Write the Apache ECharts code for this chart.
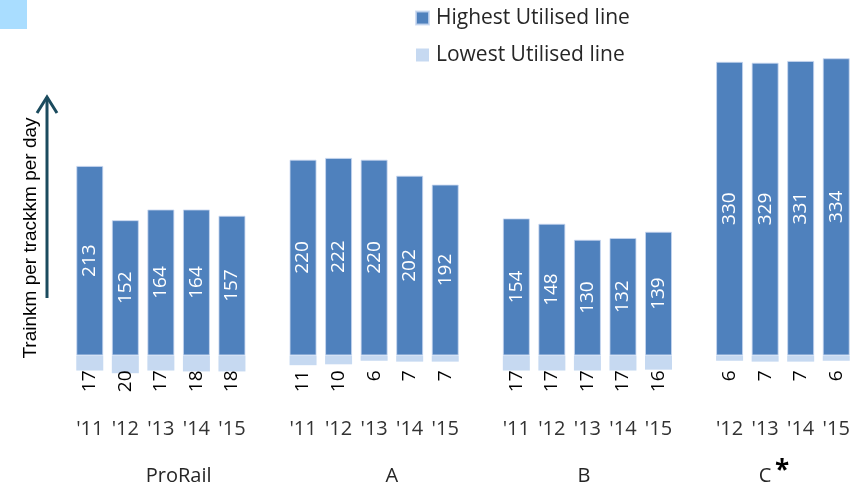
<!DOCTYPE html>
<html>
<head>
<meta charset="utf-8">
<script src="https://cdn.jsdelivr.net/npm/echarts@6/dist/echarts.min.js"></script>
<style>
html,body{margin:0;padding:0;background:#fff;}
#chart{width:864px;height:487px;}
</style>
</head>
<body>
<div id="chart"></div>
<script>
// ---- data ----
const groups = ['ProRail', 'A', 'B', 'C'];
const yearsProRail = ["'11", "'12", "'13", "'14", "'15"];
const yearsA = ["'11", "'12", "'13", "'14", "'15"];
const yearsB = ["'11", "'12", "'13", "'14", "'15"];
const yearsC = ["'12", "'13", "'14", "'15"];
const highestProRail = [213, 152, 164, 164, 157];
const highestA = [220, 222, 220, 202, 192];
const highestB = [154, 148, 130, 132, 139];
const highestC = [330, 329, 331, 334];
const lowestProRail = [17, 20, 17, 18, 18];
const lowestA = [11, 10, 6, 7, 7];
const lowestB = [17, 17, 17, 17, 16];
const lowestC = [6, 7, 7, 6];
const seriesNames = ['Highest Utilised line', 'Lowest Utilised line'];

// ---- build flattened category axis with gap slots between groups ----
const yearSets = [yearsProRail, yearsA, yearsB, yearsC];
const highSets = [highestProRail, highestA, highestB, highestC];
const lowSets = [lowestProRail, lowestA, lowestB, lowestC];
const cats = [], high = [], low = [], groupIdx = [];
yearSets.forEach((ys, g) => {
  if (g > 0) { cats.push(''); high.push(null); low.push(null); }
  const start = cats.length;
  ys.forEach((y, i) => {
    cats.push(y);
    high.push(highSets[g][i]);
    low.push(-lowSets[g][i]);
  });
  groupIdx.push([start, cats.length - 1]);
});

const FONT = '"Open Sans", sans-serif';
const chart = echarts.init(document.getElementById('chart'));
chart.setOption({
  animation: false,
  grid: { left: 72, right: 10, top: 44, bottom: 96 },
  legend: {
    orient: 'vertical', left: 410, top: 2, itemWidth: 13, itemHeight: 13, itemGap: 15,
    icon: 'rect',
    textStyle: { fontFamily: FONT, fontSize: 21, color: '#262626', lineHeight: 22, padding: [0, 0, 0, 2] },
    data: seriesNames
  },
  xAxis: {
    type: 'category', data: cats,
    axisLine: { show: false }, axisTick: { show: false },
    axisLabel: { interval: 0, margin: 28, fontFamily: FONT, fontSize: 20, color: '#333' }
  },
  yAxis: { type: 'value', min: -40, max: 350, show: false, splitLine: { show: false } },
  series: [
    {
      name: seriesNames[0], type: 'bar', stack: 't', data: high, barWidth: 27,
      itemStyle: { color: '#4F81BD', borderColor: 'rgba(200,215,240,0.8)', borderWidth: 1 },
      label: { show: true, position: 'inside', rotate: 90, color: '#fff', fontFamily: FONT, fontSize: 19 }
    },
    {
      name: seriesNames[1], type: 'bar', stack: 't', data: low, barWidth: 27,
      itemStyle: { color: '#C6D9F1' },
      label: {
        show: true, position: ['50%', 15], rotate: 90, align: 'right', verticalAlign: 'middle',
        color: '#000', fontFamily: FONT, fontSize: 19,
        formatter: p => (p.value == null ? '' : String(Math.abs(p.value)))
      }
    }
  ]
});

// group labels, y-axis title and arrow
const groupOffsets = [0.5, 0.5, -0.1, -0.5];
const px = i => chart.convertToPixel({ xAxisIndex: 0 }, i);
const pitch = px(1) - px(0);
const graphics = [
  { type: 'rect', shape: { x: 0, y: 0, width: 27, height: 29 }, style: { fill: '#A9DDFF' } },
  {
    type: 'text', x: 31, y: 238, rotation: Math.PI / 2,
    style: { text: 'Trainkm per trackkm per day', fontFamily: '"Liberation Sans", Arial, sans-serif', fontSize: 19, fill: '#000', align: 'center', verticalAlign: 'middle' }
  },
  { type: 'line', shape: { x1: 47, y1: 298, x2: 47, y2: 97 }, style: { stroke: '#1B4B5E', lineWidth: 3 } },
  { type: 'polyline', shape: { points: [[37, 113], [47, 97], [57, 113]] }, style: { stroke: '#1B4B5E', lineWidth: 3, fill: null } }
];
groups.forEach((g, k) => {
  const [s, e] = groupIdx[k];
  const cx = (px(s) + px(e)) / 2 + groupOffsets[k] * pitch;
  graphics.push({
    type: 'text', x: cx, y: 476,
    style: { text: g, fontFamily: FONT, fontSize: 20, fill: '#262626', align: 'center', verticalAlign: 'middle' }
  });
  if (g === 'C') {
    graphics.push({
      type: 'text', x: cx + 17, y: 472,
      style: { text: '*', fontFamily: FONT, fontSize: 26, fontWeight: 'bold', fill: '#000', align: 'center', verticalAlign: 'middle' }
    });
  }
});
chart.setOption({ graphic: graphics });
</script>
</body>
</html>
